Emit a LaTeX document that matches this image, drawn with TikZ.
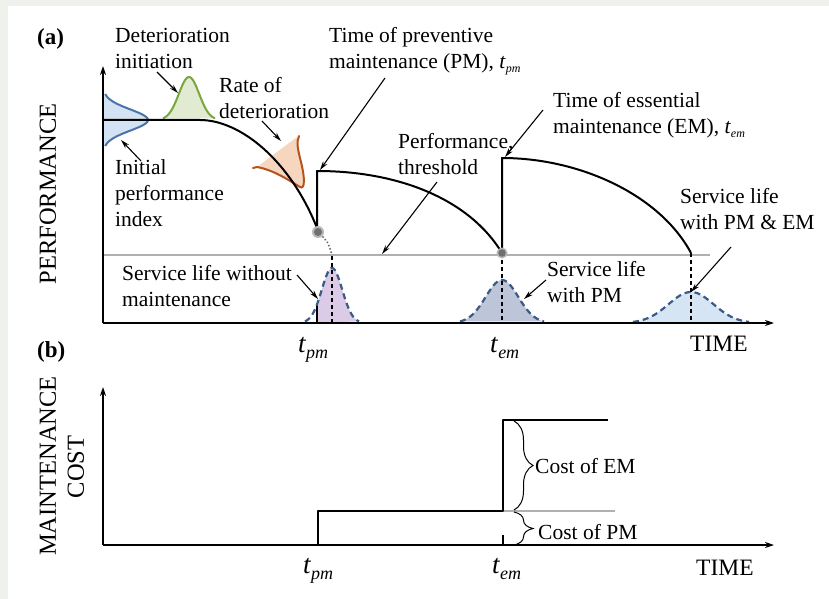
\documentclass[tikz,border=0pt]{standalone}
\usepackage{fontspec}
\setmainfont{Liberation Serif}
\usetikzlibrary{arrows.meta,decorations.pathreplacing}
\definecolor{bgout}{HTML}{EEF1EC}
\definecolor{blst}{HTML}{4B74A8}
\definecolor{blfill}{HTML}{D3E3F3}
\definecolor{grst}{HTML}{7AA640}
\definecolor{grfill}{HTML}{E1EBD2}
\definecolor{orst}{HTML}{B5541A}
\definecolor{orfill}{HTML}{F7D6BF}
\definecolor{dashst}{HTML}{3B5A85}
\definecolor{pufill}{HTML}{DCCBE6}
\definecolor{gbfill}{HTML}{BCC6D8}
\definecolor{lbfill}{HTML}{D6E5F4}
\definecolor{thr}{HTML}{B0B0B0}
\definecolor{dotc}{HTML}{707070}
\newcommand{\tsub}[1]{\textit{t}\raisebox{-4pt}{\fontsize{12}{12}\selectfont\textit{#1}}}
\newcommand{\tbig}[1]{{\fontsize{27}{27}\selectfont\textit{t}}\raisebox{-6pt}{\fontsize{18}{18}\selectfont\textit{#1}}}
\tikzset{
  lbl/.style={font=\fontsize{21.5}{26}\selectfont, align=left, inner sep=0pt, anchor=north west},
  axlbl/.style={font=\fontsize{24.5}{26}\selectfont, inner sep=0pt, rotate=90},
  timelbl/.style={font=\fontsize{23.5}{26}\selectfont, inner sep=0pt, anchor=base west},
  ticklbl/.style={inner sep=0pt, anchor=base west},
  panlbl/.style={font=\fontsize{23}{26}\selectfont\bfseries, inner sep=0pt, anchor=base west},
  ann/.style={-{Stealth[length=9pt,width=5pt]}, line width=1.1pt},
  axis/.style={-{Stealth[length=9pt,width=6pt]}, line width=1.5pt},
  perf/.style={line width=2pt, line join=round},
  gdash/.style={dashst, line width=2.2pt, dash pattern=on 6pt off 4pt},
  vdash/.style={line width=1.3pt, dash pattern=on 4pt off 3pt},
  brc/.style={decorate, decoration={brace, amplitude=19pt}, line width=1pt},
}
\begin{document}
\begin{tikzpicture}[x=1pt,y=-1pt]
\useasboundingbox (0,0) rectangle (829,599);
\fill[bgout] (0,0) rectangle (829,599);
\fill[white] (8,6) rectangle (829,599);

% ---------- panel (a) ----------
% distributions at the bottom
\fill[pufill] (317,323) -- plot[domain=-15:27,samples=50] ({332+\x},{323-55*exp(-(\x)*(\x)/208)}) -- cycle;
\draw[line width=1.3pt] (317,323) -- (317,{323-55*exp(-225/208)});
\fill[gbfill] plot[domain=-42:42,samples=60] ({502+\x},{323-43*exp(-(\x)*(\x)/533)}) -- cycle;
\fill[lbfill] plot[domain=-58:58,samples=70] ({691+\x},{323-31*exp(-(\x)*(\x)/1008)}) -- cycle;
\draw[gdash] plot[domain=-27:27,samples=50] ({332+\x},{323-55*exp(-(\x)*(\x)/208)});
\draw[gdash] plot[domain=-42:42,samples=60] ({502+\x},{323-43*exp(-(\x)*(\x)/533)});
\draw[gdash] plot[domain=-58:58,samples=70] ({691+\x},{323-31*exp(-(\x)*(\x)/1008)});

% initial performance distribution
\fill[blfill] (103,94) -- plot[domain=-26:26,samples=50] ({103+45*exp(-(\x)*(\x)/225)},{120+\x}) -- (103,146) -- cycle;
\draw[blst, line width=2pt] plot[domain=-26:26,samples=50] ({103+45*exp(-(\x)*(\x)/225)},{120+\x});
% deterioration initiation
\fill[grfill] plot[domain=-26:26,samples=50] ({189+\x},{120-43*exp(-(\x)*(\x)/208)}) -- cycle;
\draw[grst, line width=2pt] plot[domain=-26:26,samples=50] ({189+\x},{120-43*exp(-(\x)*(\x)/208)});
% rate of deterioration
\fill[orfill] (257,167) .. controls (274,170) and (290,181) .. (300,187) .. controls (305,190) and (305,178) .. (301,162) .. controls (298,150) and (296,142) .. (297,137) -- cycle;
\draw[orst, line width=2pt, line cap=round] (253,168) -- (257,167) .. controls (274,170) and (290,181) .. (300,187) .. controls (305,190) and (305,178) .. (301,162) .. controls (298,150) and (296,142) .. (299,136);

% threshold
\draw[thr, line width=2pt] (103,255) -- (710,255);

% dashed verticals
\draw[dotc, line width=1.6pt, dash pattern=on 1.5pt off 2pt] (320,234) .. controls (328,242) .. (332,255);
\draw[vdash] (332,256) -- (332,323);
\draw[vdash] (502,253) -- (502,323);
\draw[vdash] (691,253) -- (691,323);

% performance profile
\draw[perf] (103,120) -- (200,120) .. controls (240,120) and (290,160) .. (317,228) -- (317,171) .. controls (400,171) and (470,200) .. (502,253) -- (502,158) .. controls (580,158) and (660,195) .. (691,253);

% gray dots
\fill[dotc!50] (318,232) circle (6);
\fill[dotc] (318,232) circle (4);
\fill[dotc!50] (502,253) circle (5.5);
\fill[dotc] (502,253) circle (3.8);

% axes
\coordinate (aO) at (103,323);
\coordinate (aY) at (103,66);
\coordinate (aX) at (774,323);
\draw[axis] (aO) -- (aY);
\draw[axis] (aO) -- (aX);

% labels
\node[panlbl] (la) at (37,45) {(a)};
\node[axlbl] (perfl) at (48,194) {PERFORMANCE};
\node[lbl] (det) at (115,28.5) {Deterioration\\initiation};
\node[lbl] (rate) at (219,77.5) {Rate of\\deterioration};
\node[lbl] (init) at (115,159.5) {Initial\\performance\\index};
\node[lbl] (pm) at (329,27.5) {Time of preventive\\maintenance (PM), \tsub{pm}};
\node[lbl] (thrl) at (398,133.5) {Performance,\\threshold};
\node[lbl] (em) at (553,92.5) {Time of essential\\maintenance (EM), \tsub{em}};
\node[lbl] (slpmem) at (680,188.5) {Service life\\with PM \& EM};
\node[lbl] (slpm) at (547,261.5) {Service life\\with PM};
\node[lbl] (slwo) at (122,265.5) {Service life without\\maintenance};
\node[ticklbl] (tpa) at (298,352) {\tbig{pm}};
\node[ticklbl] (tea) at (490,352) {\tbig{em}};
\node[timelbl] (timea) at (690,351) {TIME};

% annotation arrows
\coordinate (a1s) at (157,72);  \coordinate (a1e) at (178,93);
\coordinate (a2s) at (262,121); \coordinate (a2e) at (281,141);
\coordinate (a3s) at (141,161); \coordinate (a3e) at (121,140);
\coordinate (a4s) at (385,78);  \coordinate (a4e) at (320,170);
\coordinate (a5s) at (437,182); \coordinate (a5e) at (382,254);
\coordinate (a6s) at (543,110); \coordinate (a6e) at (505,157);
\coordinate (a7s) at (731,247); \coordinate (a7e) at (691,292);
\coordinate (a8s) at (546,280); \coordinate (a8e) at (524,299);
\coordinate (a9s) at (297,275); \coordinate (a9e) at (318,299);
\foreach \i in {1,...,9} {\draw[ann] (a\i s) -- (a\i e);}

% ---------- panel (b) ----------
\node[panlbl] (lb) at (37,357) {(b)};
\node[axlbl] (mnt) at (48,466) {MAINTENANCE};
\node[axlbl] (cst) at (76,467) {COST};
\draw[thr, line width=2pt] (503,511) -- (615,511);
\draw[perf] (318,545) -- (318,511) -- (503,511) -- (503,420) -- (608,420);
\draw[line width=1.3pt] (503,535) -- (503,545);
\coordinate (bO) at (103,545);
\coordinate (bY) at (103,387);
\coordinate (bX) at (774,545);
\draw[axis] (bO) -- (bY);
\draw[axis] (bO) -- (bX);
\coordinate (br1) at (514,421); \coordinate (br2) at (514,510);
\coordinate (br3) at (514,512); \coordinate (br4) at (514,545);
\draw[brc] (br1) -- (br2);
\draw[brc] (br3) -- (br4);
\node[lbl, anchor=west] (cem) at (535,466) {Cost of EM};
\node[lbl, anchor=west] (cpm) at (538,532) {Cost of PM};
\node[ticklbl] (tpb) at (303,573) {\tbig{pm}};
\node[ticklbl] (teb) at (492,573) {\tbig{em}};
\node[timelbl] (timeb) at (696,575) {TIME};
\end{tikzpicture}
\end{document}
